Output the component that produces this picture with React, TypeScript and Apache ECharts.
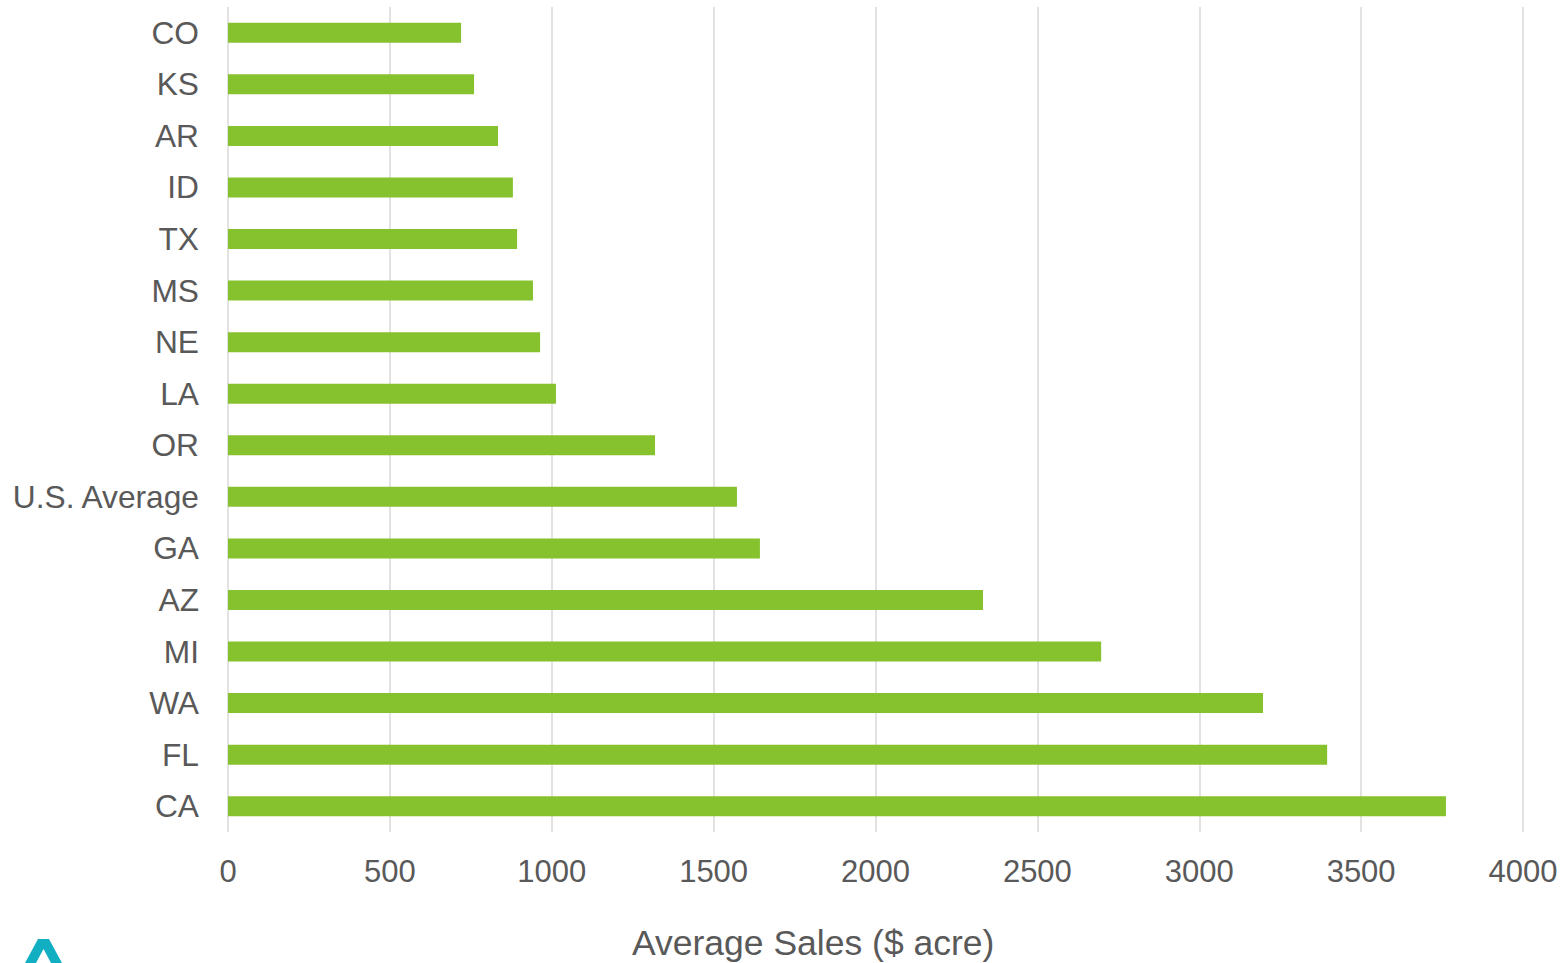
import React, { useEffect, useRef } from "react";
import * as echarts from "echarts";

const categories = ["CO", "KS", "AR", "ID", "TX", "MS", "NE", "LA", "OR", "U.S. Average", "GA", "AZ", "MI", "WA", "FL", "CA"];
const salesValues = [720, 760, 834, 880, 893, 942, 964, 1013, 1319, 1572, 1643, 2332, 2697, 3197, 3395, 3762];
const xTicks = [0, 500, 1000, 1500, 2000, 2500, 3000, 3500, 4000];
const axisTitle = "Average Sales ($ acre)";

const FONT = "'Liberation Sans', Arial, sans-serif";

export default function App() {
  const ref = useRef<HTMLDivElement>(null);
  useEffect(() => {
    if (!ref.current) return;
    const chart = echarts.init(ref.current, null, { renderer: "svg" });
    chart.setOption({
      animation: false,
      backgroundColor: "#ffffff",
      grid: { left: 228, right: 39, top: 7, bottom: 131, containLabel: false },
      xAxis: {
        type: "value",
        min: xTicks[0],
        max: xTicks[xTicks.length - 1],
        interval: 500,
        axisLine: { show: false },
        axisTick: { show: false },
        axisLabel: {
          fontFamily: FONT,
          fontSize: 31,
          color: "#595959",
          margin: 24,
          formatter: (v: number) => String(v),
        },
        splitLine: { show: true, lineStyle: { color: "#d9d9d9", width: 1.5 } },
      },
      yAxis: {
        type: "category",
        data: categories,
        inverse: true,
        axisLine: { show: false },
        axisTick: { show: false },
        axisLabel: { fontFamily: FONT, fontSize: 31.7, color: "#595959", margin: 29 },
        splitLine: { show: false },
      },
      series: [
        {
          type: "bar",
          data: salesValues,
          barWidth: 20,
          itemStyle: { color: "#86C22E" },
        },
      ],
      graphic: [
        {
          type: "text",
          left: 632,
          top: 925,
          style: {
            text: axisTitle,
            fontFamily: FONT,
            fontSize: 35.5,
            fill: "#595959",
          },
        },
        {
          type: "polygon",
          shape: {
            points: [
              [25, 963], [38, 939], [49, 939], [62, 963], [51, 963], [43.5, 949], [36, 963],
            ],
          },
          style: { fill: "#12AFC3" },
        },
      ],
    });
    return () => chart.dispose();
  }, []);
  return <div ref={ref} style={{ width: 1562, height: 963, position: "absolute", left: 0, top: 0 }} />;
}
